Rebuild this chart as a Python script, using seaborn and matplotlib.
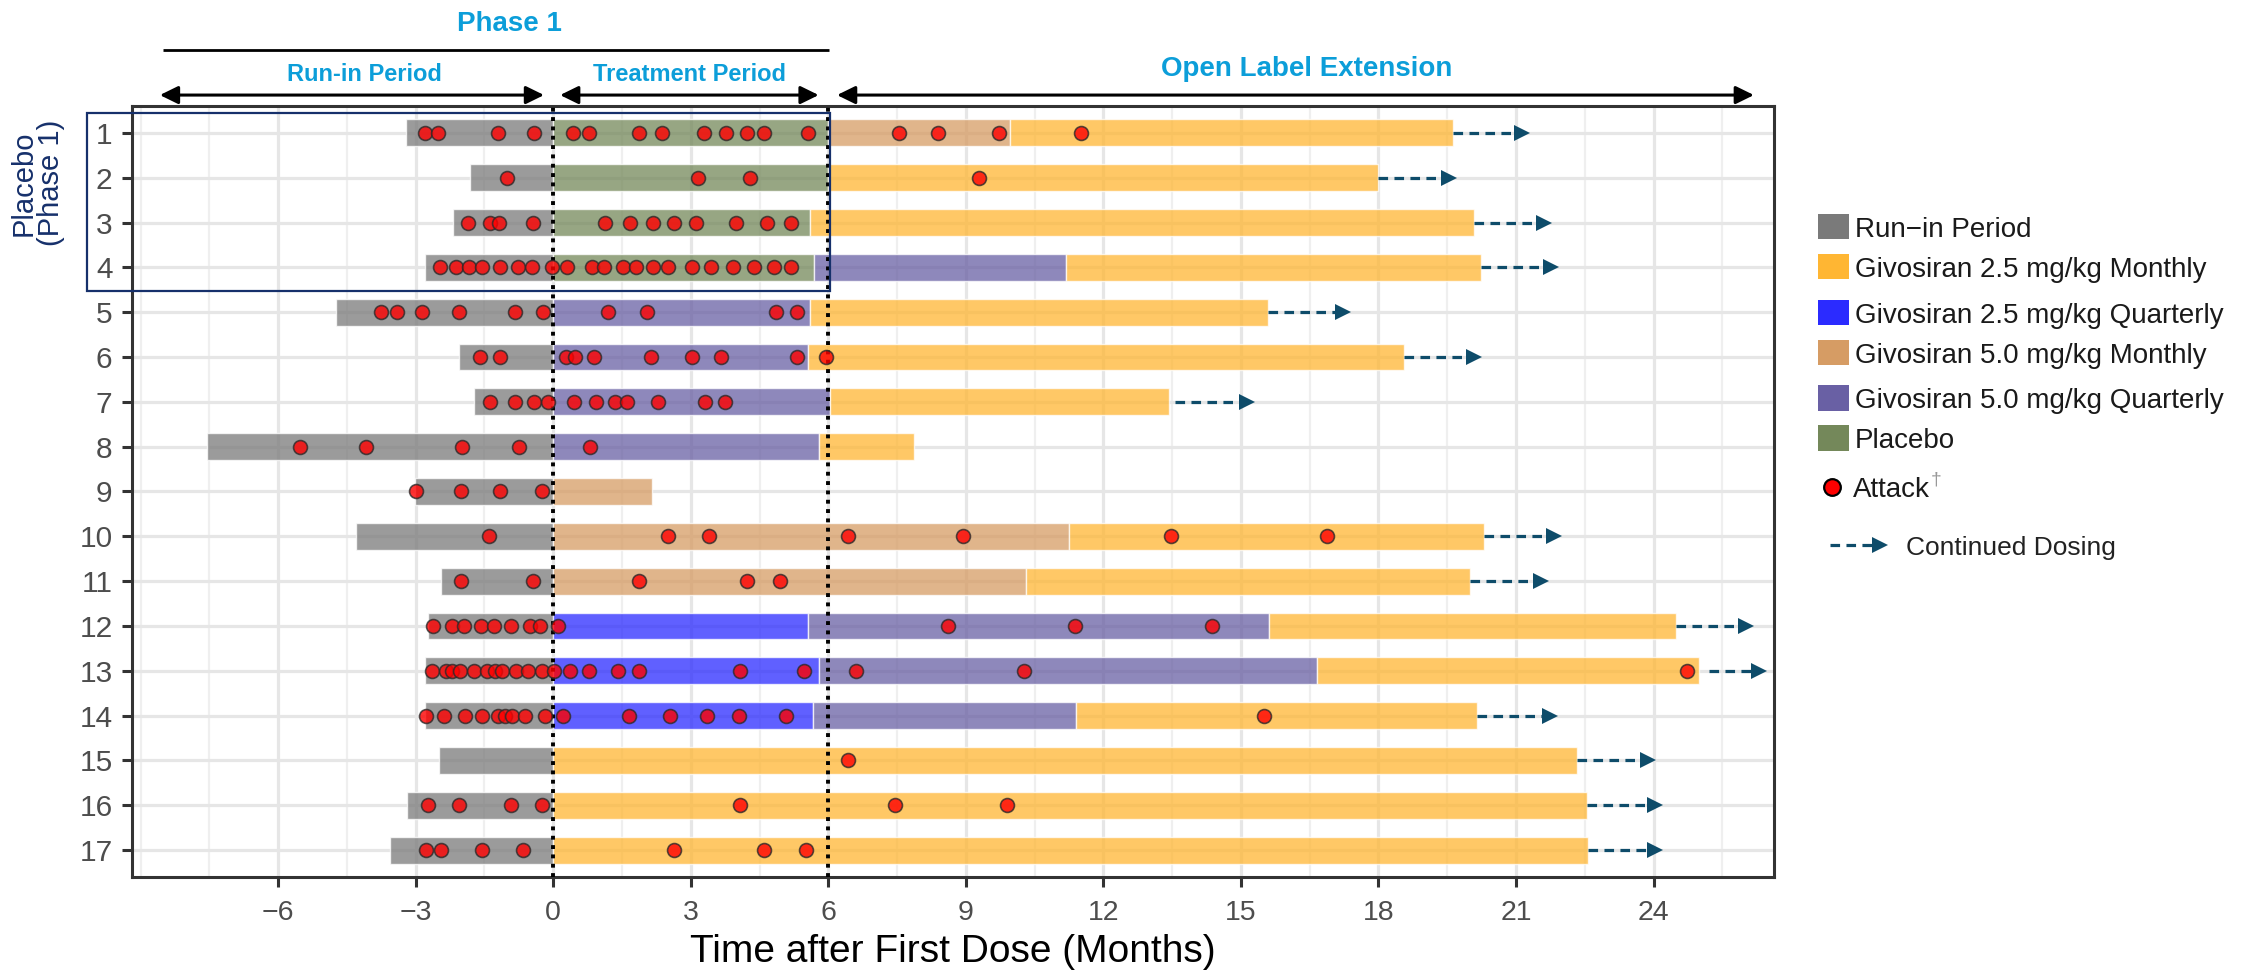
import numpy as np
import pandas as pd
import matplotlib
matplotlib.use("Agg")
import matplotlib.pyplot as plt
from matplotlib.patches import Rectangle
from matplotlib.lines import Line2D
import seaborn as sns

# ---------------------------------------------------------------------------
# Regimens
regimens = ["RUN", "M25", "Q25", "M50", "Q50", "PBO"]
regimen_labels = ["Run\u2212in Period", "Givosiran 2.5 mg/kg Monthly",
                  "Givosiran 2.5 mg/kg Quarterly", "Givosiran 5.0 mg/kg Monthly",
                  "Givosiran 5.0 mg/kg Quarterly", "Placebo"]
regimen_colors = ["#7a7a7a", "#FFB633", "#2B2BFF", "#D69C64", "#6960A4", "#74885A"]

# Dosing periods per patient, months after first dose
seg_patient = [1, 1, 1, 1,
               2, 2, 2,
               3, 3, 3,
               4, 4, 4, 4,
               5, 5, 5,
               6, 6, 6,
               7, 7, 7,
               8, 8, 8,
               9, 9,
               10, 10, 10,
               11, 11, 11,
               12, 12, 12, 12,
               13, 13, 13, 13,
               14, 14, 14, 14,
               15, 15,
               16, 16,
               17, 17]
seg_start = [-3.22, 0, 6.00, 9.96,
             -1.81, 0, 6.00,
             -2.19, 0, 5.59,
             -2.80, 0, 5.68, 11.18,
             -4.73, 0, 5.59,
             -2.05, 0, 5.56,
             -1.72, 0, 6.04,
             -7.56, 0, 5.79,
             -3.01, 0,
             -4.31, 0, 11.25,
             -2.45, 0, 10.32,
             -2.73, 0, 5.56, 15.62,
             -2.80, 0, 5.79, 16.65,
             -2.80, 0, 5.66, 11.41,
             -2.50, 0,
             -3.20, 0,
             -3.57, 0]
seg_end = [0, 6.00, 9.96, 19.63,
           0, 6.00, 17.99,
           0, 5.59, 20.09,
           0, 5.68, 11.18, 20.23,
           0, 5.59, 15.59,
           0, 5.56, 18.55,
           0, 6.04, 13.44,
           0, 5.79, 7.86,
           0, 2.15,
           0, 11.25, 20.30,
           0, 10.32, 20.00,
           0, 5.56, 15.62, 24.49,
           0, 5.79, 16.65, 25.00,
           0, 5.66, 11.41, 20.14,
           0, 22.34,
           0, 22.54,
           0, 22.56]
seg_regimen = ["RUN", "PBO", "M50", "M25",
               "RUN", "PBO", "M25",
               "RUN", "PBO", "M25",
               "RUN", "PBO", "Q50", "M25",
               "RUN", "Q50", "M25",
               "RUN", "Q50", "M25",
               "RUN", "Q50", "M25",
               "RUN", "Q50", "M25",
               "RUN", "M50",
               "RUN", "M50", "M25",
               "RUN", "M50", "M25",
               "RUN", "Q25", "Q50", "M25",
               "RUN", "Q25", "Q50", "M25",
               "RUN", "Q25", "Q50", "M25",
               "RUN", "M25",
               "RUN", "M25",
               "RUN", "M25"]

# Attacks (patient, month)
attack_patient = ([1] * 17 + [2] * 4 + [3] * 12 + [4] * 21 + [5] * 10 + [6] * 10 +
                  [7] * 11 + [8] * 5 + [9] * 4 + [10] * 7 + [11] * 5 + [12] * 12 +
                  [13] * 21 + [14] * 16 + [15] * 1 + [16] * 7 + [17] * 7)
attack_month = [
    -2.80, -2.51, -1.20, -0.41, 0.44, 0.78, 1.88, 2.37, 3.29, 3.77, 4.23, 4.59, 5.55, 7.54, 8.40, 9.72, 11.52,
    -1.01, 3.15, 4.29, 9.29,
    -1.85, -1.38, -1.18, -0.44, 1.12, 1.68, 2.18, 2.64, 3.12, 3.98, 4.67, 5.19,
    -2.48, -2.12, -1.83, -1.56, -1.16, -0.77, -0.47, -0.02, 0.31, 0.85, 1.10, 1.52, 1.81, 2.18, 2.51, 3.02,
    3.45, 3.92, 4.37, 4.82, 5.19,
    -3.76, -3.40, -2.86, -2.05, -0.83, -0.22, 1.20, 2.04, 4.87, 5.32,
    -1.59, -1.17, 0.27, 0.47, 0.90, 2.14, 3.02, 3.65, 5.32, 5.94,
    -1.37, -0.83, -0.41, -0.12, 0.46, 0.93, 1.34, 1.62, 2.28, 3.30, 3.75,
    -5.53, -4.08, -1.99, -0.75, 0.80,
    -3.00, -2.02, -1.17, -0.25,
    -1.41, 2.50, 3.39, 6.44, 8.93, 13.47, 16.88,
    -2.02, -0.44, 1.88, 4.23, 4.95,
    -2.63, -2.20, -1.95, -1.58, -1.29, -0.93, -0.51, -0.29, 0.10, 8.62, 11.39, 14.36,
    -2.65, -2.33, -2.20, -2.03, -1.73, -1.44, -1.27, -1.12, -0.81, -0.54, -0.25, 0.01, 0.37, 0.77, 1.42,
    1.88, 4.08, 5.46, 6.60, 10.27, 24.74,
    -2.78, -2.38, -1.92, -1.56, -1.21, -1.06, -0.91, -0.61, -0.19, 0.21, 1.66, 2.54, 3.36, 4.05, 5.07, 15.51,
    6.44,
    -2.74, -2.05, -0.93, -0.25, 4.08, 7.46, 9.89,
    -2.78, -2.44, -1.56, -0.65, 2.64, 4.59, 5.51,
]

# Continued dosing arrows
arrow_patient = [1, 2, 3, 4, 5, 6, 7, 10, 11, 12, 13, 14, 15, 16, 17]
arrow_from = [19.63, 17.99, 20.09, 20.23, 15.59, 18.55, 13.56, 20.30, 20.00, 24.49, 25.22, 20.14, 22.34, 22.54, 22.56]
arrow_to = [21.29, 19.70, 21.78, 21.92, 17.38, 20.25, 15.30, 21.99, 21.71, 26.18, 26.46, 21.90, 24.04, 24.19, 24.19]

patients = list(range(1, 18))
x_ticks = list(range(-6, 25, 3))

# ---------------------------------------------------------------------------
sns.set_theme(style="white")
plt.rcParams["font.family"] = ["Liberation Sans", "DejaVu Sans"]

W, H = 2254, 971
fig = plt.figure(figsize=(W / 100, H / 100), dpi=100)
ax_l, ax_r, ax_t, ax_b = 132, 1774, 106, 877
ax = fig.add_axes([ax_l / W, 1 - ax_b / H, (ax_r - ax_l) / W, (ax_b - ax_t) / H])

color_of = dict(zip(regimens, regimen_colors))
BAR_ALPHA = 0.75

for p, s, e, r in zip(seg_patient, seg_start, seg_end, seg_regimen):
    ax.barh(p, e - s, left=s, height=0.6, color=color_of[r], alpha=BAR_ALPHA,
            edgecolor=(1, 1, 1, 0.55), linewidth=1.0, zorder=2)

# Period boundaries
for xv in (0, 6):
    ax.axvline(xv, color="black", lw=2.8, linestyle=(0, (1.0, 1.4)), zorder=3)

# Attacks
attacks = pd.DataFrame({"patient": attack_patient, "month": attack_month})
sns.scatterplot(data=attacks, x="month", y="patient", ax=ax, s=100, color="#FF0000",
                alpha=0.8, edgecolor="#2b2b2b", linewidth=1.2, zorder=4, legend=False)

# Axis limits with 5 % expansion
x_lo, x_hi = min(seg_start), max(seg_end)
pad = 0.05 * (x_hi - x_lo)
ax.set_xlim(x_lo - pad, x_hi + pad)
ax.set_ylim(17.6, 0.4)
months_per_px = (x_hi - x_lo + 2 * pad) / (ax_r - ax_l)

# Continued dosing arrows
ARROW_C = "#0E4C6A"
head_px = 15
for p, a, b in zip(arrow_patient, arrow_from, arrow_to):
    hb = b - head_px * months_per_px
    ax.plot([a, hb + 0.02], [p, p], color=ARROW_C, lw=2.3, linestyle=(0, (3.0, 2.0)),
            dash_capstyle="butt", zorder=3)
    ax.plot([b - head_px * months_per_px / 2], [p], marker=">", ms=11.2, color=ARROW_C,
            markeredgewidth=0, zorder=3)

# Grid, ticks, frame
ax.set_xticks(x_ticks)
ax.set_xticks(np.arange(-9, 27, 1.5), minor=True)
ax.set_yticks(patients)
ax.set_yticklabels([str(p) for p in patients])
ax.grid(which="major", axis="both", color="#E6E6E6", lw=2.3)
ax.grid(which="minor", axis="x", color="#EFEFEF", lw=1.6)
ax.set_axisbelow(True)
ax.tick_params(which="major", direction="out", length=7.5, width=2.2, color="#333333",
               labelcolor="#4D4D4D", left=True, bottom=True)
ax.tick_params(axis="x", which="major", labelsize=20.5, pad=9)
ax.tick_params(axis="y", which="major", labelsize=21.5, pad=6.5)
ax.tick_params(which="minor", length=0)
for sp in ax.spines.values():
    sp.set_visible(True)
    sp.set_color("#333333")
    sp.set_linewidth(2.2)

ax.set_ylabel("")
ax.set_xlabel("Time after First Dose (Months)", fontsize=28, color="black")
ax.xaxis.set_label_coords(0.5, -(952 - ax_b) / (ax_b - ax_t))
ax.xaxis.label.set_va("center")

# Study-phase annotations above the panel
BLUE = "#0C9ED9"
ax.text(-0.95, -1.44, "Phase 1", ha="center", va="center", fontsize=20, fontweight="bold",
        color=BLUE, clip_on=False)
ax.plot([-8.52, 6.01], [-0.84, -0.84], color="black", lw=2.0, clip_on=False,
        solid_capstyle="butt")
ax.text(-4.11, -0.31, "Run-in Period", ha="center", va="center", fontsize=17,
        fontweight="bold", color=BLUE, clip_on=False)
ax.text(2.98, -0.31, "Treatment Period", ha="center", va="center", fontsize=17,
        fontweight="bold", color=BLUE, clip_on=False)
ax.text(16.44, -0.42, "Open Label Extension", ha="center", va="center", fontsize=20,
        fontweight="bold", color=BLUE, clip_on=False)
for x0, x1 in [(-8.58, -0.2), (0.15, 5.79), (6.19, 26.19)]:
    ax.annotate("", xy=(x1, 0.156), xytext=(x0, 0.156), annotation_clip=False,
                arrowprops=dict(arrowstyle="<|-|>,head_length=0.55,head_width=0.27",
                                color="black", lw=2.2, mutation_scale=20,
                                shrinkA=0, shrinkB=0))

# Phase 1 placebo group
NAVY = "#16306B"
ax.add_patch(Rectangle((-10.16, 0.556), 6.03 + 10.16, 4.53 - 0.556, fill=False,
                       edgecolor=NAVY, lw=1.6, clip_on=False, zorder=5))
ax.text(-11.25, 2.12, "Placebo\n(Phase 1)", rotation=90, ha="center", va="center",
        multialignment="center", fontsize=21, color=NAVY, linespacing=0.95, clip_on=False)

# ---------------------------------------------------------------------------
# Legend
def fx(px):
    return px / W


def fy(py):
    return 1 - py / H


key_centers = [227, 267, 313, 353, 398, 438]
for lab, col, yc in zip(regimen_labels, regimen_colors, key_centers):
    fig.add_artist(Rectangle((fx(1818), fy(yc + 12.5)), 31 / W, 25 / H, color=col,
                             transform=fig.transFigure, lw=0))
    fig.text(fx(1855), fy(yc + 10), lab, fontsize=20, color="#1A1A1A", ha="left",
             va="baseline")

fig.add_artist(Line2D([fx(1832)], [fy(487)], marker="o", ms=12, markerfacecolor="#FF0000",
                      markeredgecolor="black", markeredgewidth=1.6, lw=0,
                      transform=fig.transFigure))
fig.text(fx(1853), fy(497), "Attack", fontsize=20, color="#1A1A1A", ha="left", va="baseline")
fig.text(fx(1931), fy(484), "\u2020", fontsize=14, color="#999999", ha="left", va="baseline")

fig.add_artist(Line2D([fx(1830), fx(1873)], [fy(545), fy(545)], color=ARROW_C, lw=2.3,
                      linestyle=(0, (3.0, 2.0)), dash_capstyle="butt",
                      transform=fig.transFigure))
fig.add_artist(Line2D([fx(1880)], [fy(545)], marker=">", ms=11.2, color=ARROW_C,
                      markeredgewidth=0, lw=0, transform=fig.transFigure))
fig.text(fx(1906), fy(555), "Continued Dosing", fontsize=19, color="#222222", ha="left",
         va="baseline")

fig.savefig("out.png", dpi=100, facecolor="white")
